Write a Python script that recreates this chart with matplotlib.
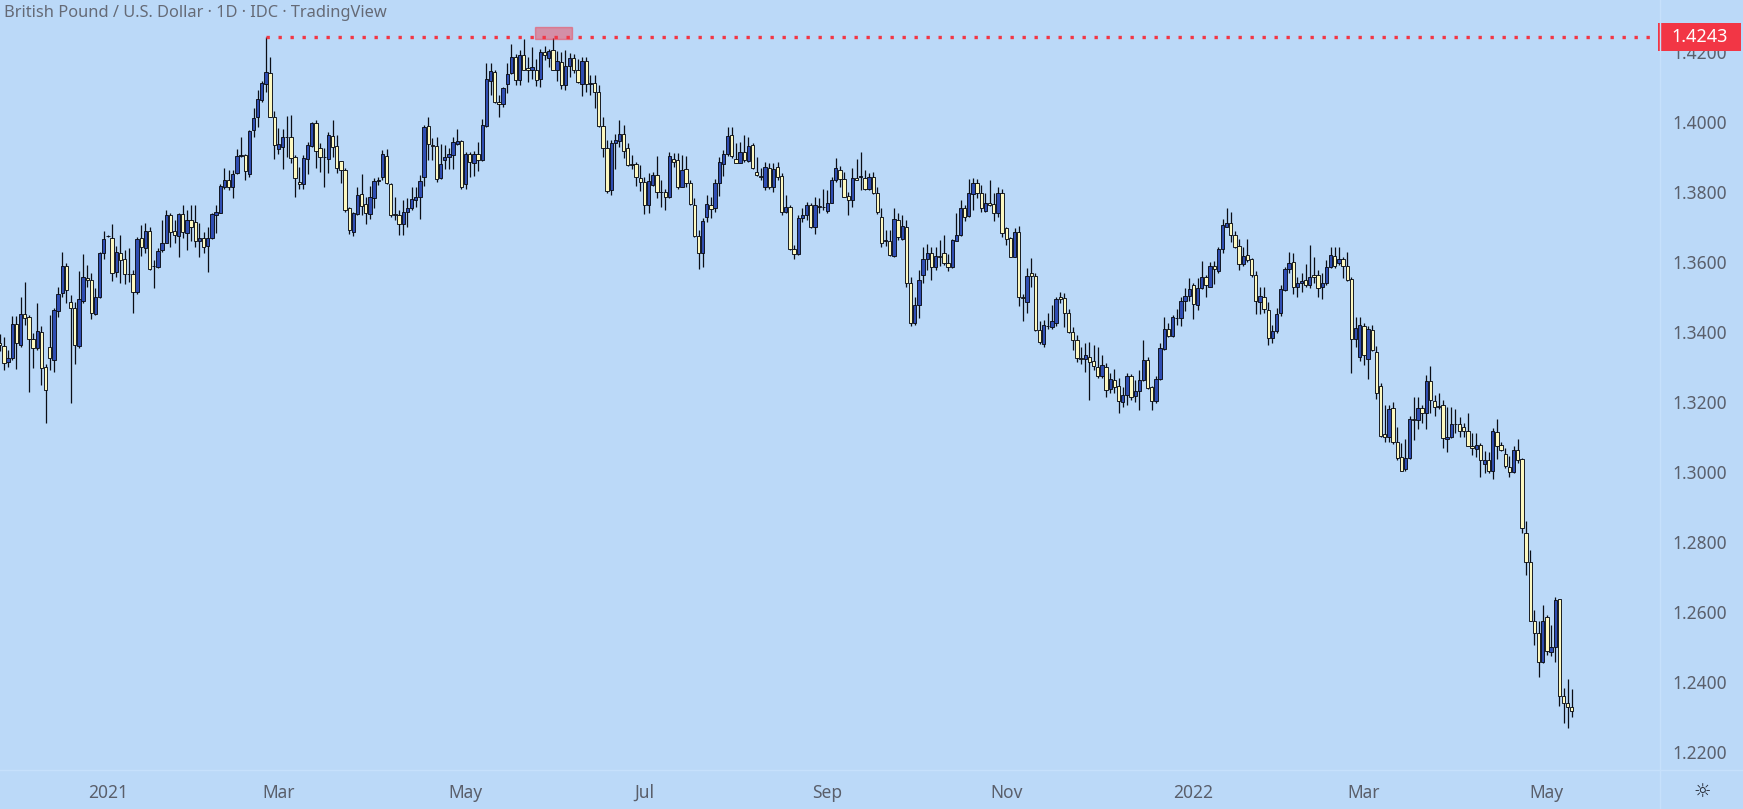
import numpy as np
import pandas as pd
import matplotlib
matplotlib.use("Agg")
import matplotlib.pyplot as plt
from matplotlib.patches import Rectangle
from matplotlib.lines import Line2D

# GBP/USD daily candles, 2020-11-26 .. 2022-05-10
opens = [
    1.3370,
    1.3360, 1.3313, 1.3325, 1.3423, 1.3363, 1.3452, 1.3442, 1.3379, 1.3355, 1.3401,
    1.3299, 1.3358, 1.3320, 1.3460, 1.3512, 1.3589, 1.3487, 1.3468, 1.3360, 1.3490,
    1.3553, 1.3549, 1.3451, 1.3501, 1.3627, 1.3673, 1.3668, 1.3572, 1.3625, 1.3608,
    1.3567, 1.3565, 1.3514, 1.3668, 1.3639, 1.3690, 1.3590, 1.3587, 1.3633, 1.3655,
    1.3733, 1.3688, 1.3675, 1.3737, 1.3684, 1.3719, 1.3713, 1.3661, 1.3668, 1.3646,
    1.3670, 1.3734, 1.3741, 1.3815, 1.3834, 1.3815, 1.3853, 1.3904, 1.3905, 1.3851,
    1.3977, 1.4013, 1.4063, 1.4110, 1.4141, 1.4015, 1.3922, 1.3928, 1.3956, 1.3956,
    1.3899, 1.3830, 1.3822, 1.3893, 1.3932, 1.3996, 1.3925, 1.3901, 1.3895, 1.3960,
    1.3931, 1.3889, 1.3863, 1.3753, 1.3687, 1.3736, 1.3793, 1.3766, 1.3736, 1.3784,
    1.3831, 1.3844, 1.3904, 1.3823, 1.3736, 1.3733, 1.3708, 1.3744, 1.3753, 1.3777,
    1.3785, 1.3842, 1.3988, 1.3935, 1.3931, 1.3841, 1.3891, 1.3899, 1.3906, 1.3936,
    1.3946, 1.3822, 1.3909, 1.3884, 1.3910, 1.3891, 1.3989, 1.4118, 1.4144, 1.4058,
    1.4051, 1.4110, 1.4139, 1.4187, 1.4120, 1.4191, 1.4153, 1.4150, 1.4150, 1.4122,
    1.4201, 1.4182, 1.4206, 1.4150, 1.4172, 1.4106, 1.4160, 1.4182, 1.4150, 1.4110,
    1.4175, 1.4110, 1.4112, 1.4087, 1.3988, 1.3927, 1.3806, 1.3939, 1.3947, 1.3966,
    1.3925, 1.3880, 1.3880, 1.3839, 1.3830, 1.3763, 1.3820, 1.3849, 1.3801, 1.3801,
    1.3785, 1.3894, 1.3891, 1.3815, 1.3865, 1.3827, 1.3763, 1.3674, 1.3627, 1.3730,
    1.3763, 1.3755, 1.3825, 1.3880, 1.3909, 1.3963, 1.3893, 1.3884, 1.3914, 1.3889,
    1.3934, 1.3857, 1.3845, 1.3815, 1.3868, 1.3815, 1.3871, 1.3846, 1.3742, 1.3756,
    1.3637, 1.3623, 1.3725, 1.3734, 1.3763, 1.3699, 1.3759, 1.3757, 1.3746, 1.3770,
    1.3834, 1.3863, 1.3837, 1.3789, 1.3776, 1.3839, 1.3843, 1.3839, 1.3810, 1.3842,
    1.3796, 1.3728, 1.3660, 1.3661, 1.3617, 1.3720, 1.3665, 1.3701, 1.3539, 1.3425,
    1.3477, 1.3563, 1.3610, 1.3625, 1.3585, 1.3616, 1.3627, 1.3598, 1.3587, 1.3661,
    1.3677, 1.3754, 1.3732, 1.3794, 1.3825, 1.3796, 1.3746, 1.3770, 1.3766, 1.3741,
    1.3798, 1.3696, 1.3668, 1.3615, 1.3687, 1.3500, 1.3486, 1.3568, 1.3560, 1.3406,
    1.3367, 1.3418, 1.3413, 1.3427, 1.3499, 1.3496, 1.3455, 1.3401, 1.3377, 1.3326,
    1.3324, 1.3328, 1.3318, 1.3300, 1.3274, 1.3299, 1.3237, 1.3263, 1.3246, 1.3201,
    1.3220, 1.3274, 1.3217, 1.3232, 1.3263, 1.3320, 1.3244, 1.3204, 1.3266, 1.3352,
    1.3410, 1.3389, 1.3440, 1.3439, 1.3490, 1.3503, 1.3534, 1.3477, 1.3527, 1.3556,
    1.3530, 1.3590, 1.3575, 1.3636, 1.3701, 1.3712, 1.3676, 1.3646, 1.3594, 1.3619,
    1.3610, 1.3562, 1.3487, 1.3499, 1.3463, 1.3382, 1.3404, 1.3453, 1.3520, 1.3579,
    1.3601, 1.3530, 1.3539, 1.3549, 1.3534, 1.3563, 1.3563, 1.3530, 1.3539, 1.3585,
    1.3617, 1.3598, 1.3608, 1.3589, 1.3551, 1.3380, 1.3328, 1.3417, 1.3323, 1.3406,
    1.3344, 1.3246, 1.3109, 1.3101, 1.3182, 1.3085, 1.3043, 1.3008, 1.3040, 1.3151,
    1.3149, 1.3182, 1.3168, 1.3261, 1.3204, 1.3186, 1.3192, 1.3094, 1.3100, 1.3137,
    1.3137, 1.3130, 1.3116, 1.3075, 1.3065, 1.3078, 1.3023, 1.3033, 1.3002, 1.3115,
    1.3078, 1.3052, 1.3014, 1.2999, 1.3063, 1.3036, 1.2827, 1.2744, 1.2573, 1.2541,
    1.2458, 1.2585, 1.2487, 1.2499, 1.2636, 1.2360, 1.2339, 1.2328,
]
highs = [
    1.3395,
    1.3387, 1.3350, 1.3445, 1.3445, 1.3501, 1.3542, 1.3449, 1.3396, 1.3482, 1.3418,
    1.3310, 1.3449, 1.3470, 1.3529, 1.3628, 1.3596, 1.3505, 1.3487, 1.3575, 1.3623,
    1.3591, 1.3568, 1.3525, 1.3630, 1.3690, 1.3677, 1.3709, 1.3646, 1.3677, 1.3634,
    1.3639, 1.3577, 1.3672, 1.3706, 1.3712, 1.3701, 1.3606, 1.3639, 1.3720, 1.3749,
    1.3741, 1.3720, 1.3741, 1.3763, 1.3750, 1.3763, 1.3763, 1.3712, 1.3687, 1.3700,
    1.3741, 1.3763, 1.3823, 1.3870, 1.3863, 1.3863, 1.3922, 1.3958, 1.3910, 1.3977,
    1.4039, 1.4091, 1.4118, 1.4243, 1.4185, 1.4031, 1.3984, 1.3979, 1.4017, 1.4020,
    1.3906, 1.3872, 1.3906, 1.3944, 1.4001, 1.4006, 1.3939, 1.3925, 1.3971, 1.4006,
    1.3963, 1.3890, 1.3870, 1.3758, 1.3744, 1.3815, 1.3851, 1.3787, 1.3817, 1.3839,
    1.3844, 1.3920, 1.3923, 1.3825, 1.3785, 1.3749, 1.3777, 1.3782, 1.3813, 1.3815,
    1.3849, 1.3991, 1.4013, 1.3953, 1.3956, 1.3937, 1.3934, 1.3925, 1.3956, 1.3979,
    1.3949, 1.3915, 1.3915, 1.3918, 1.3944, 1.4010, 1.4170, 1.4170, 1.4149, 1.4077,
    1.4099, 1.4168, 1.4223, 1.4194, 1.4206, 1.4236, 1.4185, 1.4215, 1.4179, 1.4208,
    1.4217, 1.4208, 1.4240, 1.4204, 1.4201, 1.4206, 1.4196, 1.4194, 1.4179, 1.4185,
    1.4185, 1.4135, 1.4135, 1.4105, 1.4015, 1.3948, 1.3948, 1.3967, 1.4005, 1.3992,
    1.3939, 1.3905, 1.3886, 1.3877, 1.3844, 1.3853, 1.3858, 1.3903, 1.3834, 1.3810,
    1.3915, 1.3911, 1.3912, 1.3906, 1.3903, 1.3834, 1.3782, 1.3691, 1.3725, 1.3791,
    1.3787, 1.3837, 1.3901, 1.3920, 1.3985, 1.3985, 1.3939, 1.3944, 1.3963, 1.3958,
    1.3939, 1.3901, 1.3868, 1.3887, 1.3884, 1.3884, 1.3887, 1.3853, 1.3791, 1.3763,
    1.3649, 1.3734, 1.3753, 1.3772, 1.3768, 1.3785, 1.3782, 1.3810, 1.3806, 1.3844,
    1.3896, 1.3874, 1.3858, 1.3801, 1.3868, 1.3893, 1.3915, 1.3863, 1.3853, 1.3858,
    1.3815, 1.3753, 1.3691, 1.3691, 1.3754, 1.3739, 1.3734, 1.3720, 1.3558, 1.3501,
    1.3577, 1.3644, 1.3652, 1.3644, 1.3644, 1.3663, 1.3677, 1.3623, 1.3667, 1.3739,
    1.3776, 1.3763, 1.3836, 1.3839, 1.3836, 1.3820, 1.3796, 1.3833, 1.3796, 1.3815,
    1.3808, 1.3701, 1.3672, 1.3696, 1.3703, 1.3510, 1.3582, 1.3611, 1.3568, 1.3432,
    1.3434, 1.3453, 1.3477, 1.3499, 1.3515, 1.3512, 1.3465, 1.3413, 1.3391, 1.3358,
    1.3368, 1.3372, 1.3363, 1.3356, 1.3334, 1.3312, 1.3282, 1.3293, 1.3268, 1.3244,
    1.3282, 1.3280, 1.3263, 1.3292, 1.3377, 1.3328, 1.3247, 1.3275, 1.3370, 1.3444,
    1.3427, 1.3448, 1.3465, 1.3501, 1.3525, 1.3554, 1.3539, 1.3554, 1.3604, 1.3563,
    1.3601, 1.3604, 1.3642, 1.3722, 1.3753, 1.3744, 1.3689, 1.3665, 1.3642, 1.3665,
    1.3612, 1.3573, 1.3528, 1.3528, 1.3487, 1.3420, 1.3468, 1.3534, 1.3585, 1.3630,
    1.3625, 1.3556, 1.3568, 1.3594, 1.3649, 1.3613, 1.3577, 1.3570, 1.3606, 1.3644,
    1.3642, 1.3642, 1.3615, 1.3630, 1.3558, 1.3444, 1.3444, 1.3425, 1.3417, 1.3420,
    1.3360, 1.3253, 1.3191, 1.3191, 1.3201, 1.3128, 1.3083, 1.3094, 1.3160, 1.3213,
    1.3215, 1.3191, 1.3277, 1.3303, 1.3220, 1.3227, 1.3206, 1.3187, 1.3187, 1.3179,
    1.3158, 1.3139, 1.3170, 1.3111, 1.3111, 1.3083, 1.3060, 1.3057, 1.3125, 1.3151,
    1.3087, 1.3068, 1.3046, 1.3073, 1.3094, 1.3039, 1.2861, 1.2777, 1.2606, 1.2575,
    1.2620, 1.2592, 1.2563, 1.2644, 1.2638, 1.2382, 1.2408, 1.2379,
]
lows = [
    1.3345,
    1.3291, 1.3300, 1.3320, 1.3293, 1.3358, 1.3420, 1.3230, 1.3296, 1.3349, 1.3249,
    1.3141, 1.3291, 1.3287, 1.3442, 1.3500, 1.3482, 1.3196, 1.3310, 1.3355, 1.3482,
    1.3530, 1.3436, 1.3449, 1.3498, 1.3610, 1.3671, 1.3547, 1.3558, 1.3540, 1.3538,
    1.3544, 1.3455, 1.3510, 1.3617, 1.3627, 1.3577, 1.3525, 1.3582, 1.3630, 1.3653,
    1.3642, 1.3655, 1.3615, 1.3668, 1.3634, 1.3661, 1.3642, 1.3615, 1.3625, 1.3572,
    1.3667, 1.3682, 1.3739, 1.3808, 1.3806, 1.3783, 1.3851, 1.3900, 1.3835, 1.3844,
    1.3958, 1.3987, 1.4058, 1.4087, 1.4013, 1.3893, 1.3910, 1.3865, 1.3900, 1.3884,
    1.3785, 1.3808, 1.3808, 1.3851, 1.3930, 1.3870, 1.3858, 1.3815, 1.3855, 1.3899,
    1.3855, 1.3825, 1.3744, 1.3680, 1.3674, 1.3734, 1.3734, 1.3710, 1.3722, 1.3753,
    1.3820, 1.3834, 1.3823, 1.3730, 1.3720, 1.3677, 1.3677, 1.3701, 1.3749, 1.3758,
    1.3722, 1.3817, 1.3891, 1.3891, 1.3830, 1.3836, 1.3865, 1.3865, 1.3865, 1.3934,
    1.3808, 1.3808, 1.3844, 1.3846, 1.3861, 1.3889, 1.3987, 1.4077, 1.4055, 1.4013,
    1.4042, 1.4082, 1.4137, 1.4106, 1.4106, 1.4149, 1.4115, 1.4122, 1.4103, 1.4099,
    1.4177, 1.4156, 1.4149, 1.4118, 1.4093, 1.4091, 1.4130, 1.4141, 1.4112, 1.4075,
    1.4085, 1.4077, 1.4039, 1.3987, 1.3901, 1.3796, 1.3791, 1.3867, 1.3930, 1.3896,
    1.3875, 1.3865, 1.3817, 1.3803, 1.3737, 1.3739, 1.3818, 1.3782, 1.3758, 1.3748,
    1.3783, 1.3872, 1.3810, 1.3813, 1.3815, 1.3763, 1.3672, 1.3579, 1.3587, 1.3713,
    1.3725, 1.3744, 1.3790, 1.3846, 1.3902, 1.3896, 1.3882, 1.3882, 1.3887, 1.3887,
    1.3865, 1.3846, 1.3834, 1.3806, 1.3810, 1.3799, 1.3834, 1.3735, 1.3739, 1.3635,
    1.3608, 1.3620, 1.3715, 1.3720, 1.3697, 1.3680, 1.3739, 1.3749, 1.3739, 1.3768,
    1.3830, 1.3815, 1.3787, 1.3734, 1.3758, 1.3833, 1.3806, 1.3806, 1.3806, 1.3794,
    1.3737, 1.3644, 1.3646, 1.3617, 1.3615, 1.3663, 1.3663, 1.3530, 1.3417, 1.3420,
    1.3439, 1.3539, 1.3577, 1.3549, 1.3577, 1.3589, 1.3591, 1.3575, 1.3582, 1.3659,
    1.3673, 1.3716, 1.3728, 1.3749, 1.3782, 1.3744, 1.3744, 1.3760, 1.3716, 1.3728,
    1.3672, 1.3649, 1.3613, 1.3613, 1.3474, 1.3431, 1.3455, 1.3529, 1.3404, 1.3367,
    1.3358, 1.3410, 1.3408, 1.3416, 1.3482, 1.3413, 1.3396, 1.3349, 1.3315, 1.3310,
    1.3287, 1.3206, 1.3291, 1.3270, 1.3270, 1.3215, 1.3225, 1.3225, 1.3168, 1.3187,
    1.3192, 1.3206, 1.3201, 1.3178, 1.3259, 1.3237, 1.3178, 1.3196, 1.3262, 1.3349,
    1.3387, 1.3387, 1.3420, 1.3416, 1.3461, 1.3489, 1.3436, 1.3463, 1.3524, 1.3499,
    1.3530, 1.3537, 1.3568, 1.3627, 1.3699, 1.3658, 1.3639, 1.3577, 1.3589, 1.3600,
    1.3556, 1.3452, 1.3451, 1.3455, 1.3363, 1.3370, 1.3398, 1.3446, 1.3516, 1.3568,
    1.3509, 1.3499, 1.3513, 1.3530, 1.3525, 1.3541, 1.3501, 1.3494, 1.3535, 1.3582,
    1.3582, 1.3592, 1.3553, 1.3546, 1.3282, 1.3357, 1.3318, 1.3306, 1.3265, 1.3347,
    1.3208, 1.3101, 1.3087, 1.3085, 1.3080, 1.3034, 1.3004, 1.3004, 1.3037, 1.3091,
    1.3122, 1.3141, 1.3122, 1.3170, 1.3160, 1.3179, 1.3070, 1.3056, 1.3097, 1.3111,
    1.3101, 1.3101, 1.3073, 1.3049, 1.3044, 1.2987, 1.2996, 1.2996, 1.2979, 1.3038,
    1.3059, 1.3011, 1.2987, 1.2997, 1.3025, 1.2827, 1.2706, 1.2573, 1.2506, 1.2415,
    1.2455, 1.2478, 1.2475, 1.2458, 1.2331, 1.2282, 1.2268, 1.2299,
]
closes = [
    1.3362,
    1.3311, 1.3325, 1.3423, 1.3368, 1.3452, 1.3439, 1.3379, 1.3353, 1.3403, 1.3296,
    1.3234, 1.3325, 1.3463, 1.3510, 1.3590, 1.3520, 1.3468, 1.3363, 1.3493, 1.3556,
    1.3550, 1.3453, 1.3501, 1.3625, 1.3665, 1.3675, 1.3570, 1.3630, 1.3606, 1.3566,
    1.3565, 1.3515, 1.3665, 1.3642, 1.3689, 1.3581, 1.3588, 1.3631, 1.3653, 1.3733,
    1.3686, 1.3676, 1.3737, 1.3687, 1.3720, 1.3701, 1.3661, 1.3670, 1.3644, 1.3670,
    1.3737, 1.3743, 1.3817, 1.3834, 1.3815, 1.3851, 1.3903, 1.3906, 1.3861, 1.3974,
    1.4011, 1.4065, 1.4112, 1.4144, 1.4015, 1.3934, 1.3936, 1.3956, 1.3958, 1.3896,
    1.3839, 1.3823, 1.3897, 1.3933, 1.3996, 1.3918, 1.3901, 1.3899, 1.3962, 1.3928,
    1.3870, 1.3863, 1.3749, 1.3691, 1.3739, 1.3791, 1.3760, 1.3739, 1.3785, 1.3832,
    1.3833, 1.3910, 1.3825, 1.3734, 1.3734, 1.3708, 1.3744, 1.3753, 1.3779, 1.3785,
    1.3832, 1.3985, 1.3936, 1.3932, 1.3837, 1.3880, 1.3901, 1.3908, 1.3943, 1.3946,
    1.3815, 1.3910, 1.3885, 1.3909, 1.3891, 1.3992, 1.4122, 1.4147, 1.4058, 1.4051,
    1.4096, 1.4137, 1.4185, 1.4120, 1.4191, 1.4150, 1.4150, 1.4156, 1.4120, 1.4201,
    1.4191, 1.4204, 1.4150, 1.4175, 1.4106, 1.4160, 1.4182, 1.4150, 1.4115, 1.4175,
    1.4110, 1.4112, 1.4085, 1.3988, 1.3925, 1.3803, 1.3939, 1.3948, 1.3966, 1.3918,
    1.3877, 1.3877, 1.3842, 1.3830, 1.3763, 1.3832, 1.3849, 1.3801, 1.3800, 1.3785,
    1.3903, 1.3887, 1.3815, 1.3863, 1.3827, 1.3766, 1.3674, 1.3627, 1.3718, 1.3766,
    1.3752, 1.3825, 1.3887, 1.3909, 1.3960, 1.3903, 1.3884, 1.3914, 1.3891, 1.3931,
    1.3870, 1.3848, 1.3844, 1.3871, 1.3815, 1.3866, 1.3844, 1.3742, 1.3758, 1.3637,
    1.3623, 1.3725, 1.3734, 1.3763, 1.3699, 1.3763, 1.3757, 1.3758, 1.3770, 1.3834,
    1.3868, 1.3837, 1.3787, 1.3776, 1.3839, 1.3833, 1.3845, 1.3810, 1.3842, 1.3796,
    1.3742, 1.3655, 1.3662, 1.3620, 1.3722, 1.3672, 1.3703, 1.3539, 1.3425, 1.3477,
    1.3549, 1.3610, 1.3627, 1.3585, 1.3617, 1.3614, 1.3596, 1.3587, 1.3663, 1.3676,
    1.3754, 1.3730, 1.3796, 1.3825, 1.3796, 1.3753, 1.3768, 1.3763, 1.3741, 1.3798,
    1.3684, 1.3665, 1.3615, 1.3687, 1.3499, 1.3498, 1.3560, 1.3560, 1.3406, 1.3372,
    1.3420, 1.3416, 1.3432, 1.3493, 1.3493, 1.3455, 1.3401, 1.3377, 1.3325, 1.3324,
    1.3334, 1.3315, 1.3302, 1.3274, 1.3305, 1.3235, 1.3265, 1.3244, 1.3204, 1.3220,
    1.3274, 1.3215, 1.3232, 1.3263, 1.3320, 1.3240, 1.3204, 1.3266, 1.3355, 1.3410,
    1.3389, 1.3444, 1.3441, 1.3489, 1.3503, 1.3522, 1.3480, 1.3527, 1.3556, 1.3534,
    1.3590, 1.3579, 1.3636, 1.3706, 1.3712, 1.3676, 1.3644, 1.3594, 1.3617, 1.3607,
    1.3562, 1.3490, 1.3503, 1.3465, 1.3382, 1.3404, 1.3451, 1.3522, 1.3579, 1.3596,
    1.3530, 1.3539, 1.3547, 1.3534, 1.3556, 1.3556, 1.3525, 1.3539, 1.3585, 1.3619,
    1.3589, 1.3608, 1.3589, 1.3548, 1.3380, 1.3412, 1.3420, 1.3335, 1.3408, 1.3349,
    1.3227, 1.3103, 1.3101, 1.3179, 1.3085, 1.3040, 1.3004, 1.3040, 1.3151, 1.3150,
    1.3182, 1.3168, 1.3261, 1.3206, 1.3185, 1.3189, 1.3097, 1.3100, 1.3137, 1.3136,
    1.3116, 1.3116, 1.3075, 1.3069, 1.3078, 1.3033, 1.3033, 1.3002, 1.3118, 1.3075,
    1.3062, 1.3016, 1.2999, 1.3063, 1.3033, 1.2839, 1.2744, 1.2573, 1.2541, 1.2458,
    1.2573, 1.2490, 1.2499, 1.2634, 1.2360, 1.2339, 1.2328, 1.2316,
]
first_day = "2020-11-26"
title = "British Pound / U.S. Dollar · 1D · IDC · TradingView"
marker_price = 1.4243
price_ticks = [1.22, 1.24, 1.26, 1.28, 1.30, 1.32, 1.34, 1.36, 1.38, 1.40, 1.42]
month_names = {3: "Mar", 5: "May", 7: "Jul", 9: "Sep", 11: "Nov"}

plt.rcParams["font.family"] = ["Noto Sans", "DejaVu Sans"]

W, H = 1743, 809
BG = "#bbd9f8"
UP = "#2f4db2"
DOWN = "#fcf8c0"
TXT = "#5a5f6b"

o = np.array(opens)
h = np.array(highs)
l = np.array(lows)
c = np.array(closes)
x = np.arange(len(c))
dates = pd.bdate_range(first_day, periods=len(c))

fig = plt.figure(figsize=(W / 100, H / 100), dpi=100)
fig.patch.set_facecolor(BG)
ax = fig.add_axes([0, 39 / H, 1660 / W, 770 / H])
ax.set_facecolor(BG)

# wicks then bodies
ax.vlines(x, l, h, color="#0b0e16", lw=0.9, zorder=2)
bottom = np.minimum(o, c)
height = np.maximum(np.abs(c - o), 0.00008)
up = c >= o
ax.bar(x[up], height[up], bottom=bottom[up], width=0.8, color=UP,
       edgecolor="#0b0e16", linewidth=0.65, zorder=3)
ax.bar(x[~up], height[~up], bottom=bottom[~up], width=0.8, color=DOWN,
       edgecolor="#0b0e16", linewidth=0.65, zorder=3)

ax.set_xlim(0.04, 399.2)
ax.set_ylim(1.21486, 1.43486)

# horizontal level from the Feb high
peak = int(np.argmax(h[:100]))
ax.plot([peak, 399.2], [marker_price, marker_price], color="#f23645", lw=2.4,
        linestyle=(0, (1, 2.6)), dash_capstyle="butt", zorder=4)

# highlight box at the June high
top2 = 100 + int(np.argmax(h[100:200]))
ax.add_patch(Rectangle((top2 - 4.3, 1.4237), 8.9, 0.0034, facecolor="#f23645",
                       alpha=0.45, edgecolor="#f23645", lw=1, zorder=5))

# axes / ticks
for s in ax.spines.values():
    s.set_visible(False)
ax.yaxis.tick_right()
ax.set_yticks(price_ticks)
ax.set_yticklabels([f"{v:.4f}" for v in price_ticks])
ax.tick_params(axis="y", length=0, pad=9, labelsize=12.5, labelcolor=TXT)

tick_pos, tick_lab = [], []
for i in range(1, len(dates)):
    if dates[i].month != dates[i - 1].month:
        m = dates[i].month
        if m == 1:
            tick_pos.append(i)
            tick_lab.append(str(dates[i].year))
        elif m in month_names:
            tick_pos.append(i)
            tick_lab.append(month_names[m])
ax.set_xticks(tick_pos)
ax.set_xticklabels(tick_lab)
ax.tick_params(axis="x", length=0, pad=10, labelsize=12.5, labelcolor=TXT)
for lab in ax.get_xticklabels():
    if lab.get_text().isdigit():
        lab.set_fontweight("bold")

# price label for the level
ytr = ax.get_yaxis_transform()
ax.add_patch(Rectangle((1658 / 1660, marker_price - 0.0041), 83 / 1660, 0.0082,
                       transform=ytr, facecolor="#f23645", edgecolor="none",
                       clip_on=False, zorder=10))
ax.text(1700 / 1660, marker_price, f"{marker_price:.4f}", transform=ytr,
        ha="center", va="center", color="white", fontsize=13,
        fontweight="bold", clip_on=False, zorder=11)

# pane separators
fig.add_artist(Line2D([0, 1], [39 / H, 39 / H], color="#c6e0fb", lw=1))
fig.add_artist(Line2D([1660 / W, 1660 / W], [0, 1], color="#c6e0fb", lw=1))

fig.text(4 / W, 1 - 13 / H, title, ha="left", va="center", fontsize=11.8,
         color="#656a76")
fig.text(1702 / W, 1 - 791 / H, "☼", ha="center", va="center", fontsize=14,
         color="#1e222d", family="DejaVu Sans")

fig.savefig("out.png", dpi=100, facecolor=BG)
